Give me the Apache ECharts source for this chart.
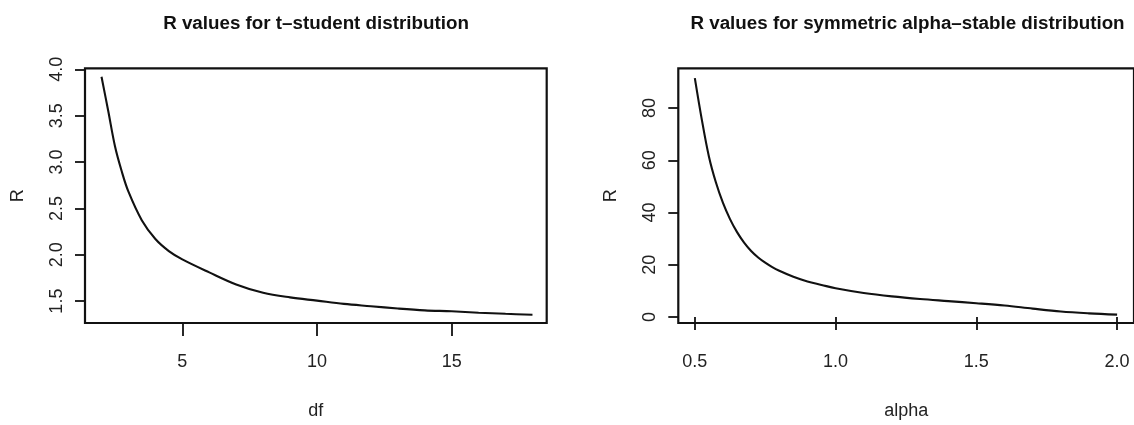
<!DOCTYPE html>
<html><head><meta charset="utf-8">
<script src="https://cdn.jsdelivr.net/npm/echarts@6/dist/echarts.min.js"></script>
<style>html,body{margin:0;padding:0;background:#fff}#c{width:1134px;height:425px}</style>
</head><body><div id="c"></div>
<script>
// ---- data ----
const titleLeft = 'R values for t\u2013student distribution';
const titleRight = 'R values for symmetric alpha\u2013stable distribution';
const xNameLeft = 'df';
const xNameRight = 'alpha';
const yName = 'R';

const dfValues = [2, 2.25, 2.5, 2.75, 3, 3.5, 4, 4.5, 5, 6, 7, 8, 9, 10, 11, 12, 13, 14, 15, 16, 17, 18];
const tStudentR = [3.92, 3.55, 3.17, 2.90, 2.68, 2.37, 2.17, 2.04, 1.95, 1.81, 1.68, 1.59, 1.54, 1.505, 1.47, 1.445, 1.42, 1.40, 1.39, 1.375, 1.363, 1.353];

const alphaValues = [0.5, 0.525, 0.55, 0.575, 0.6, 0.625, 0.65, 0.675, 0.7, 0.725, 0.75, 0.775, 0.8, 0.85, 0.9, 0.95, 1.0, 1.1, 1.2, 1.3, 1.4, 1.5, 1.6, 1.7, 1.8, 1.9, 2.0];
const alphaStableR = [91.5, 75.5, 61.5, 51.5, 43.7, 37.5, 32.5, 28.5, 25.3, 22.8, 20.8, 19.1, 17.7, 15.4, 13.6, 12.3, 11.0, 9.2, 7.9, 6.9, 6.1, 5.3, 4.4, 3.2, 2.1, 1.4, 0.9];

const dfTicks = [5, 10, 15];
const rTicksLeft = [1.5, 2.0, 2.5, 3.0, 3.5, 4.0];
const alphaTicks = [0.5, 1.0, 1.5, 2.0];
const rTicksRight = [0, 20, 40, 60, 80];

// ---- chart ----
const FONT = '"Liberation Sans", Arial, Helvetica, sans-serif';
const INK = '#111';
const LABEL = '#222';
const chart = echarts.init(document.getElementById('c'), null, {renderer: 'canvas'});

function xAxis(gridIndex, min, max, ticks, dec, name) {
  return {
    type: 'value', gridIndex, min, max,
    name, nameLocation: 'middle', nameGap: 79,
    nameTextStyle: {fontFamily: FONT, fontSize: 18, color: LABEL},
    axisLine: {show: false},
    axisTick: {show: true, inside: false, length: 13, customValues: ticks, lineStyle: {color: INK, width: 1.8}},
    axisLabel: {customValues: ticks, margin: 30, fontFamily: FONT, fontSize: 18, color: LABEL,
      formatter: v => Number(v).toFixed(dec)},
    splitLine: {show: false}
  };
}
function yAxis(gridIndex, min, max, ticks, dec, name) {
  return {
    type: 'value', gridIndex, min, max,
    name, nameLocation: 'middle', nameGap: 58, nameRotate: 90,
    nameTextStyle: {fontFamily: FONT, fontSize: 18, color: LABEL},
    axisLine: {show: false},
    axisTick: {show: true, inside: false, length: 10, customValues: ticks, lineStyle: {color: INK, width: 1.8}},
    axisLabel: {customValues: ticks, rotate: 90, margin: 19, fontFamily: FONT, fontSize: 18, color: LABEL,
      formatter: v => Number(v).toFixed(dec)},
    splitLine: {show: false}
  };
}

chart.setOption({
  backgroundColor: '#fff',
  animation: false,
  title: [
    {text: titleLeft, left: 311, top: 9, textAlign: 'center',
      textStyle: {fontFamily: FONT, fontSize: 18.8, fontWeight: 'bold', color: INK}},
    {text: titleRight, left: 902.5, top: 9, textAlign: 'center',
      textStyle: {fontFamily: FONT, fontSize: 18.8, fontWeight: 'bold', color: INK}}
  ],
  grid: [
    {left: 85, top: 68.3, width: 461.7, height: 256, show: true, borderColor: INK, borderWidth: 2.2, backgroundColor: 'transparent'},
    {left: 678.3, top: 68.3, width: 460.5, height: 256, show: true, borderColor: INK, borderWidth: 2.2, backgroundColor: 'transparent'}
  ],
  xAxis: [
    xAxis(0, 1.387, 18.528, dfTicks, 0, xNameLeft),
    xAxis(1, 0.4413, 2.06, alphaTicks, 1, xNameRight)
  ],
  yAxis: [
    yAxis(0, 1.264, 4.011, rTicksLeft, 1, yName),
    yAxis(1, -2.29, 95.24, rTicksRight, 0, yName)
  ],
  series: [
    {type: 'line', xAxisIndex: 0, yAxisIndex: 0, showSymbol: false, smooth: 0.35,
      lineStyle: {color: INK, width: 2.1}, data: dfValues.map((d, i) => [d, tStudentR[i]])},
    {type: 'line', xAxisIndex: 1, yAxisIndex: 1, showSymbol: false, smooth: 0.35,
      lineStyle: {color: INK, width: 2.1}, data: alphaValues.map((a, i) => [a, alphaStableR[i]])}
  ]
});
</script>
</body></html>
